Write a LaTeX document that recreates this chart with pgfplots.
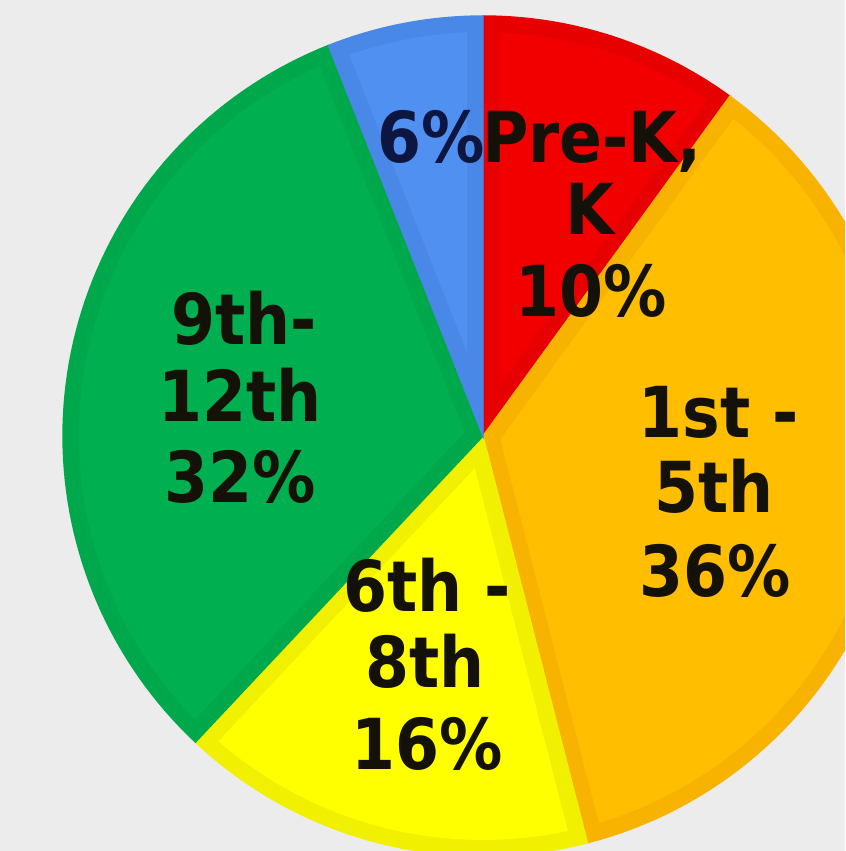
\documentclass[border=0pt]{standalone}
\usepackage{pgfplots}
\usepackage{pgfplotstable}
\pgfplotsset{compat=1.18}
\usepackage{fontspec}
\newfontfamily\lblfont{DejaVu Sans Condensed}
\definecolor{bgcol}{HTML}{ECECEC}
\definecolor{cRed}{HTML}{F20000}
\definecolor{cRedD}{HTML}{E60000}
\definecolor{cOra}{HTML}{FFBE00}
\definecolor{cOraD}{HTML}{F8B200}
\definecolor{cYel}{HTML}{FFFF00}
\definecolor{cYelD}{HTML}{F0F000}
\definecolor{cGre}{HTML}{00B050}
\definecolor{cGreD}{HTML}{00A84C}
\definecolor{cBlu}{HTML}{5090F0}
\definecolor{cBluD}{HTML}{4A88E8}
\definecolor{txt}{HTML}{141208}
\definecolor{txtB}{HTML}{0C1640}

\pgfplotstableread{
label pct
PreK 10
G1to5 36
G6to8 16
G9to12 32
Other 6
}\piedata

\def\cx{483}\def\cy{415}\def\R{420}\def\dd{16}
% one slice: outer (rim colour) wedge, then inset wedge in the main colour
\newcommand\slice[4]{% #1 = from angle, #2 = to angle, #3 = rim colour, #4 = main colour
  \pgfmathsetmacro\tmpoff{\dd/sin((#2-(#1))/2)}%
  \pgfmathsetmacro\tmpb{(#1+#2)/2}%
  \pgfmathsetmacro\tmpx{\cx+\tmpoff*cos(\tmpb)}%
  \pgfmathsetmacro\tmpy{\cy+\tmpoff*sin(\tmpb)}%
  \pgfmathsetmacro\tmpdel{asin(\dd/(\R-\dd))}%
  \pgfmathsetmacro\tmps{#1+\tmpdel}%
  \pgfmathsetmacro\tmpe{#2-\tmpdel}%
  \pgfmathsetmacro\tmpr{\R-\dd}%
  \edef\doit{%
    \noexpand\addplot[fill=#3, draw=#3, line width=0.4pt, domain=#1:#2]
      ({\cx+\R*cos(\noexpand\t)},{\cy+\R*sin(\noexpand\t)}) -- (axis cs:\cx,\cy) -- cycle;
    \noexpand\addplot[fill=#4, draw=none, domain=\tmps:\tmpe]
      ({\cx+\tmpr*cos(\noexpand\t)},{\cy+\tmpr*sin(\noexpand\t)}) -- (axis cs:\tmpx,\tmpy) -- cycle;
  }\doit
}

\begin{document}
\begin{tikzpicture}
\pgfplotstablegetelem{0}{pct}\of\piedata \let\pA\pgfplotsretval
\pgfplotstablegetelem{1}{pct}\of\piedata \let\pB\pgfplotsretval
\pgfplotstablegetelem{2}{pct}\of\piedata \let\pC\pgfplotsretval
\pgfplotstablegetelem{3}{pct}\of\piedata \let\pD\pgfplotsretval
\pgfplotstablegetelem{4}{pct}\of\piedata \let\pE\pgfplotsretval
\pgfmathsetmacro{\aA}{90}
\pgfmathsetmacro{\aB}{\aA-3.6*\pA}
\pgfmathsetmacro{\aC}{\aB-3.6*\pB}
\pgfmathsetmacro{\aD}{\aC-3.6*\pC}
\pgfmathsetmacro{\aE}{\aD-3.6*\pD}
\pgfmathsetmacro{\aF}{\aE-3.6*\pE}
\begin{axis}[
  scale only axis, width=8.45cm, height=8.51cm,
  xmin=0, xmax=845, ymin=0, ymax=851,
  axis line style={draw=none}, xtick=\empty, ytick=\empty,
  axis background/.style={fill=bgcol},
  samples=80, variable=\t,
]
\slice{\aB}{\aA}{cRedD}{cRed}
\slice{\aC}{\aB}{cOraD}{cOra}
\slice{\aD}{\aC}{cYelD}{cYel}
\slice{\aE}{\aD}{cGreD}{cGre}
\slice{\aF}{\aE}{cBluD}{cBlu}

\tikzset{lb/.style={anchor=base, inner sep=0pt, text=txt, font=\lblfont\bfseries\fontsize{20}{22}\selectfont}}
\node[lb, text=txtB] at (axis cs:431,688) {6\%};
\node[lb] at (axis cs:592,688) {Pre-K,};
\node[lb] at (axis cs:590,616) {K};
\node[lb] at (axis cs:591,534) {10\%};
\node[lb] at (axis cs:719,413) {1st -};
\node[lb] at (axis cs:714,338) {5th};
\node[lb] at (axis cs:715,254) {36\%};
\node[lb] at (axis cs:244,506) {9th-};
\node[lb] at (axis cs:240,429) {12th};
\node[lb] at (axis cs:240,348) {32\%};
\node[lb] at (axis cs:427,239) {6th -};
\node[lb] at (axis cs:425,163) {8th};
\node[lb] at (axis cs:427,81) {16\%};
\end{axis}
\end{tikzpicture}
\end{document}
